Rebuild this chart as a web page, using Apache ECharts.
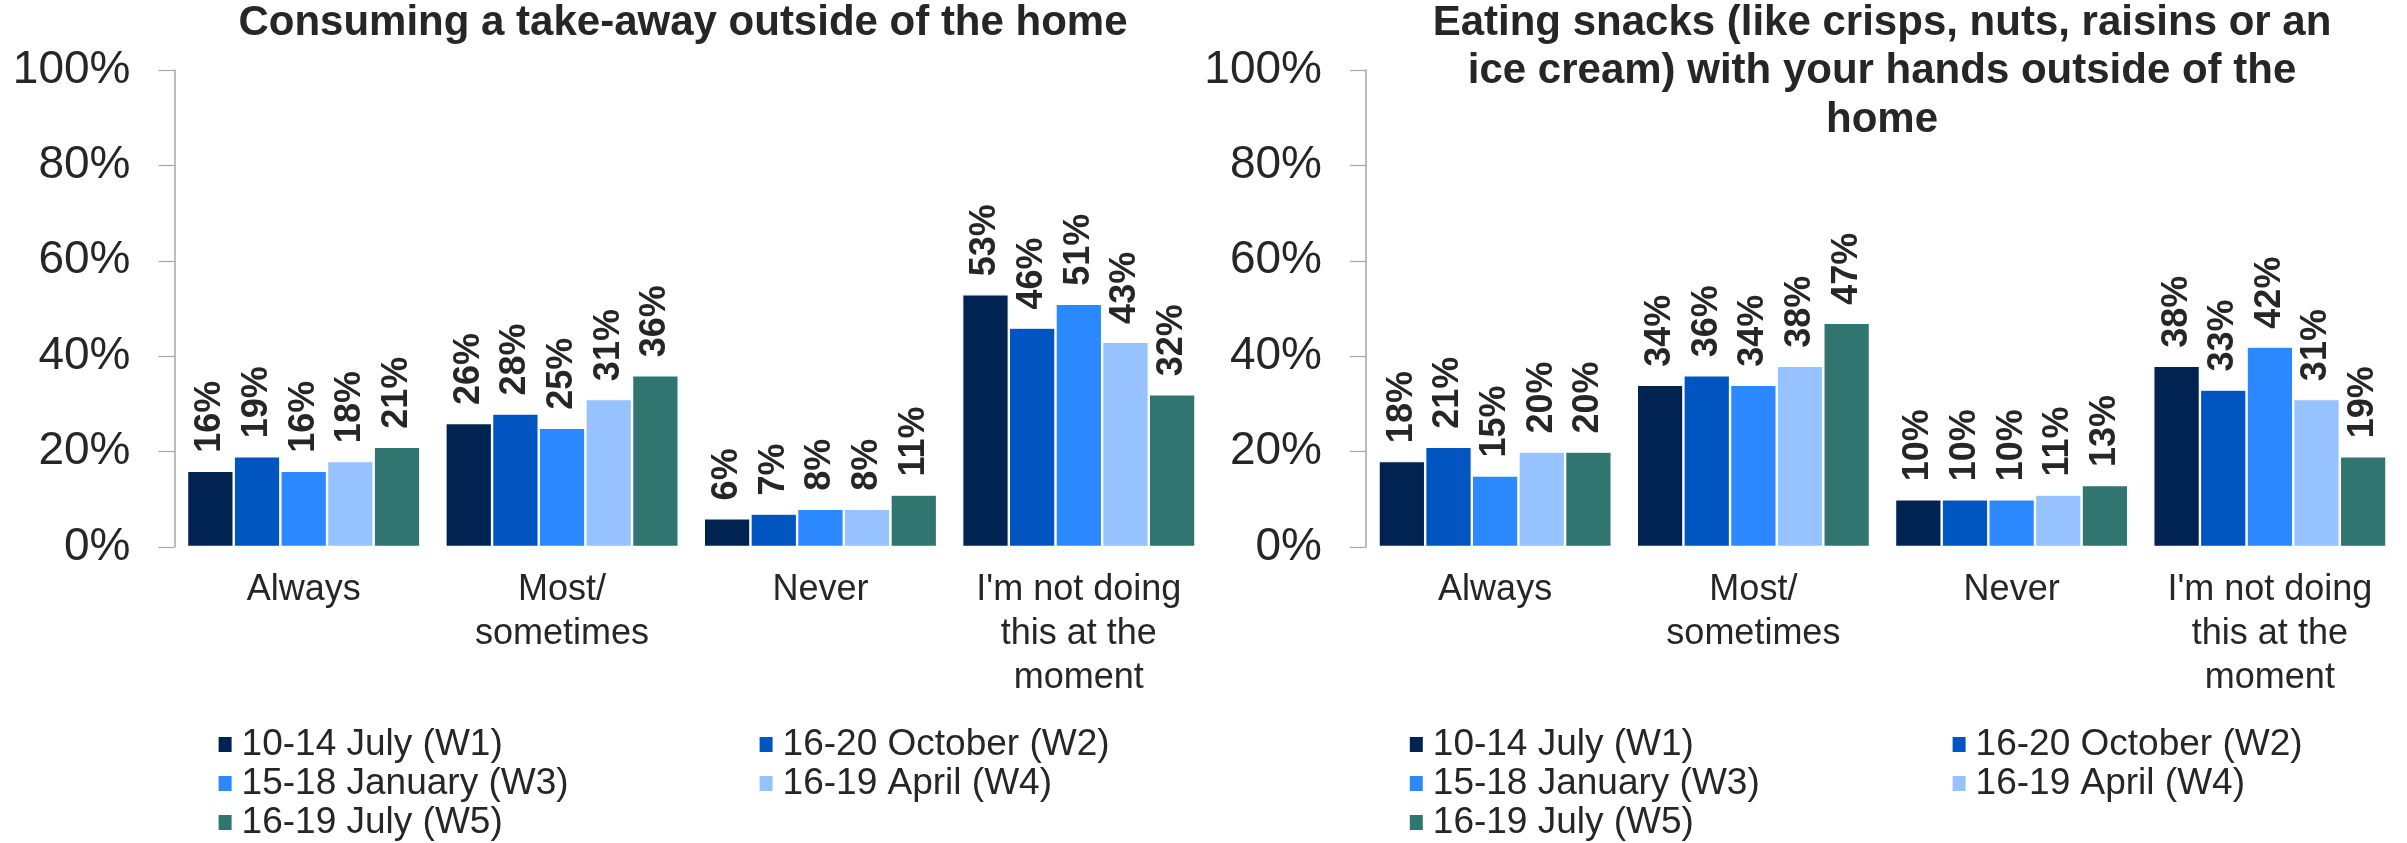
<!DOCTYPE html>
<html>
<head>
<meta charset="utf-8">
<title>Take-away and snacks outside of the home</title>
<script src="https://cdn.jsdelivr.net/npm/echarts@6/dist/echarts.min.js"></script>
<style>
  html, body { margin: 0; padding: 0; background: #fff; }
  #main { width: 2407px; height: 843px; }
</style>
</head>
<body>
<div id="main"></div>
<script>
// categories and waves
var categories = ['Always', 'Most/\nsometimes', 'Never', "I'm not doing\nthis at the\nmoment"];
var waves = ['10-14 July (W1)', '16-20 October (W2)', '15-18 January (W3)', '16-19 April (W4)', '16-19 July (W5)'];
var waveColors = ['#002351', '#0055C1', '#2B88FF', '#96C3FF', '#317571'];
var yTicks = [0, 20, 40, 60, 80, 100];

var titleLeft = 'Consuming a take-away outside of the home';
var titleRight = 'Eating snacks (like crisps, nuts, raisins or an\nice cream) with your hands outside of the\nhome';

// take-away, one array per wave (Always, Most/sometimes, Never, Not doing)
var takeW1 = [16, 26, 6, 53];
var takeW2 = [19, 28, 7, 46];
var takeW3 = [16, 25, 8, 51];
var takeW4 = [18, 31, 8, 43];
var takeW5 = [21, 36, 11, 32];

// snacks
var snackW1 = [18, 34, 10, 38];
var snackW2 = [21, 36, 10, 33];
var snackW3 = [15, 34, 10, 42];
var snackW4 = [20, 38, 11, 31];
var snackW5 = [20, 47, 13, 19];

var takeData = [takeW1, takeW2, takeW3, takeW4, takeW5];
var snackData = [snackW1, snackW2, snackW3, snackW4, snackW5];

var font = "'Liberation Sans', Arial, Helvetica, sans-serif";
var textColor = '#262626';

function makeSeries(data, idx) {
    return data.map(function (vals, i) {
        return {
            name: waves[i],
            type: 'bar',
            xAxisIndex: idx,
            yAxisIndex: idx,
            data: vals,
            barGap: '0%',
            barCategoryGap: '9.7%',
            itemStyle: { color: waveColors[i], borderColor: '#fff', borderWidth: 1.2 },
            label: {
                show: true,
                position: 'top',
                rotate: 90,
                align: 'left',
                verticalAlign: 'middle',
                distance: 18,
                formatter: '{c}%',
                fontFamily: font,
                fontWeight: 'bold',
                fontSize: 36,
                color: textColor
            }
        };
    });
}

// legend is drawn in two columns, so each column is its own legend
function makeLegend(names, left) {
    return {
        orient: 'vertical',
        left: left,
        top: 725,
        height: 118,
        padding: 0,
        itemGap: 0,
        itemWidth: 15,
        itemHeight: 17,
        icon: 'rect',
        data: names,
        selectedMode: false,
        textStyle: { fontFamily: font, fontSize: 37, lineHeight: 39, color: textColor, padding: [0, 0, 0, 4] }
    };
}

var yAxisBase = {
    type: 'value',
    min: 0,
    max: 100,
    interval: 20,
    axisLine: { show: true, lineStyle: { color: '#A6A6A6', width: 1.5 } },
    axisTick: { show: true, length: 16, lineStyle: { color: '#A6A6A6', width: 1.2 } },
    splitLine: { show: false },
    axisLabel: {
        margin: 44,
        formatter: function (v) { return yTicks.indexOf(v) >= 0 ? v + '%' : ''; },
        fontFamily: font,
        fontSize: 46,
        color: textColor
    }
};

var xAxisBase = {
    type: 'category',
    data: categories,
    axisLine: { show: false },
    axisTick: { show: false },
    axisLabel: {
        interval: 0,
        margin: 21,
        fontFamily: font,
        fontSize: 36,
        lineHeight: 44,
        color: textColor
    }
};

var myChart = echarts.init(document.getElementById('main'));
myChart.setOption({
    animation: false,
    grid: [
        { left: 174.5, right: 1199, top: 70, bottom: 296 },
        { left: 1366, right: 8, top: 70, bottom: 296 }
    ],
    xAxis: [
        Object.assign({ gridIndex: 0 }, xAxisBase),
        Object.assign({ gridIndex: 1 }, xAxisBase)
    ],
    yAxis: [
        Object.assign({ gridIndex: 0 }, yAxisBase),
        Object.assign({ gridIndex: 1 }, yAxisBase)
    ],
    legend: [
        makeLegend([waves[0], waves[2], waves[4]], 216.6),
        makeLegend([waves[1], waves[3]], 757.6),
        makeLegend([waves[0], waves[2], waves[4]], 1407.8),
        makeLegend([waves[1], waves[3]], 1950.6)
    ],
    graphic: [
        {
            type: 'text', x: 683, y: -1,
            style: { text: titleLeft, align: 'center', verticalAlign: 'top', fontFamily: font,
                     fontWeight: 'bold', fontSize: 42, lineHeight: 48.5, fill: textColor }
        },
        {
            type: 'text', x: 1882, y: -1,
            style: { text: titleRight, align: 'center', verticalAlign: 'top', fontFamily: font,
                     fontWeight: 'bold', fontSize: 42, lineHeight: 48.5, fill: textColor }
        }
    ],
    series: makeSeries(takeData, 0).concat(makeSeries(snackData, 1))
});
</script>
</body>
</html>
